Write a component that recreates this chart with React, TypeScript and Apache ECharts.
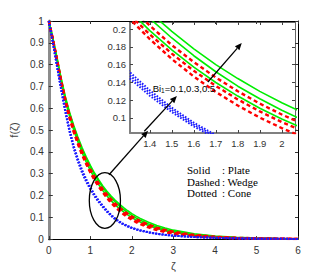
import React, { useEffect, useRef } from "react";
import * as echarts from "echarts";

const zeta = [0, 0.1, 0.2, 0.3, 0.4, 0.5, 0.6, 0.7, 0.8, 0.9, 1.0, 1.1, 1.2, 1.3, 1.4, 1.5, 1.6, 1.7, 1.8, 1.9, 2.0, 2.1, 2.2, 2.4, 2.6, 2.8, 3.0, 3.5, 4.0, 4.5, 5.0, 5.5, 6.0];

const plateBi05 = [1, 0.92, 0.83, 0.735, 0.652, 0.582, 0.521, 0.468, 0.42, 0.377, 0.338, 0.303, 0.272, 0.244, 0.219, 0.1975, 0.1778, 0.16, 0.1443, 0.1299, 0.117, 0.1053, 0.0949, 0.0769, 0.0624, 0.0506, 0.041, 0.0243, 0.0144, 0.0085, 0.005, 0.003, 0.0018];
const plateBi03 = [1, 0.918, 0.826, 0.73, 0.645, 0.576, 0.515, 0.461, 0.412, 0.369, 0.331, 0.296, 0.265, 0.237, 0.212, 0.19, 0.17, 0.152, 0.1357, 0.1215, 0.1086, 0.0971, 0.0869, 0.0695, 0.0556, 0.0444, 0.0355, 0.0203, 0.0116, 0.0066, 0.0038, 0.0022, 0.0012];
const plateBi01 = [1, 0.915, 0.82, 0.722, 0.635, 0.563, 0.5, 0.446, 0.397, 0.354, 0.315, 0.281, 0.25, 0.2227, 0.1983, 0.1766, 0.1571, 0.1399, 0.1246, 0.1108, 0.0987, 0.0878, 0.0782, 0.0619, 0.049, 0.0389, 0.0308, 0.0172, 0.0096, 0.0054, 0.003, 0.0017, 0.0009];

const wedgeBi05 = [1, 0.916, 0.822, 0.725, 0.639, 0.569, 0.506, 0.452, 0.403, 0.36, 0.321, 0.2865, 0.256, 0.228, 0.2039, 0.182, 0.1628, 0.1455, 0.13, 0.1161, 0.1038, 0.0927, 0.0829, 0.0662, 0.0529, 0.0422, 0.0337, 0.0192, 0.0109, 0.0062, 0.0035, 0.002, 0.0011];
const wedgeBi03 = [1, 0.913, 0.816, 0.718, 0.63, 0.559, 0.495, 0.441, 0.392, 0.349, 0.31, 0.276, 0.245, 0.218, 0.194, 0.1724, 0.153, 0.136, 0.1208, 0.1073, 0.0953, 0.0847, 0.0752, 0.0593, 0.0468, 0.0369, 0.0291, 0.0161, 0.0089, 0.0049, 0.0027, 0.0015, 0.0008];
const wedgeBi01 = [1, 0.911, 0.813, 0.714, 0.626, 0.554, 0.491, 0.436, 0.387, 0.344, 0.305, 0.271, 0.241, 0.2137, 0.1888, 0.1663, 0.1466, 0.1292, 0.1139, 0.1003, 0.0885, 0.078, 0.0687, 0.0534, 0.0415, 0.0322, 0.025, 0.0133, 0.0071, 0.0038, 0.002, 0.0011, 0.0006];

const coneBi05 = [1, 0.902, 0.793, 0.689, 0.59, 0.503, 0.428, 0.368, 0.318, 0.275, 0.238, 0.2055, 0.178, 0.1535, 0.131, 0.1115, 0.0946, 0.0806, 0.0695, 0.0603, 0.0527, 0.0462, 0.0407, 0.0319, 0.0251, 0.02, 0.016, 0.0097, 0.0059, 0.0036, 0.0021, 0.0013, 0.0008];
const coneBi03 = [1, 0.9, 0.79, 0.685, 0.585, 0.497, 0.422, 0.362, 0.311, 0.269, 0.233, 0.201, 0.174, 0.15, 0.128, 0.109, 0.0925, 0.0788, 0.068, 0.059, 0.0515, 0.0452, 0.0398, 0.0312, 0.0246, 0.0196, 0.0157, 0.0095, 0.0058, 0.0035, 0.0021, 0.0013, 0.0008];
const coneBi01 = [1, 0.898, 0.787, 0.681, 0.58, 0.491, 0.416, 0.356, 0.304, 0.263, 0.228, 0.1965, 0.17, 0.1465, 0.125, 0.1065, 0.0904, 0.077, 0.0665, 0.0577, 0.0503, 0.0442, 0.0389, 0.0305, 0.0241, 0.0192, 0.0154, 0.0093, 0.0057, 0.0034, 0.0021, 0.0013, 0.0008];

const insetXTicks = [1.4, 1.5, 1.6, 1.7, 1.8, 1.9, 2];
const insetYTicks = [0.1, 0.12, 0.14, 0.16, 0.18, 0.2];
const legendRows = [
  ["Solid", ": Plate"],
  ["Dashed", ": Wedge"],
  ["Dotted", ": Cone"],
];

const SANS = "'Liberation Sans Narrow', 'Liberation Sans', Arial, sans-serif";
const SERIF = "'Liberation Serif', 'Times New Roman', serif";

const groups = [
  { color: "#00ee00", type: "solid", width: 1.6, data: [plateBi01, plateBi03, plateBi05] },
  { color: "#ff0000", type: [4, 3], width: 2.4, data: [wedgeBi01, wedgeBi03, wedgeBi05] },
  { color: "#1a1aff", type: [1.6, 1.6], width: 2, data: [coneBi01, coneBi03, coneBi05] },
];

function makeSeries(xi: number, yi: number) {
  const out: any[] = [];
  groups.forEach((g) => {
    g.data.forEach((arr) => {
      out.push({
        type: "line",
        xAxisIndex: xi,
        yAxisIndex: yi,
        data: zeta.map((z, i) => [z, arr[i]]),
        showSymbol: false,
        smooth: false,
        clip: true,
        lineStyle: { color: g.color, width: g.width, type: g.type },
        silent: true,
      });
    });
  });
  return out;
}

function arrowEls(p0: number[], p1: number[]) {
  const dx = p1[0] - p0[0];
  const dy = p1[1] - p0[1];
  const L = Math.sqrt(dx * dx + dy * dy);
  const ux = dx / L;
  const uy = dy / L;
  const hl = 7;
  const hw = 3;
  const bx = p1[0] - ux * hl;
  const by = p1[1] - uy * hl;
  return [
    { type: "line", shape: { x1: p0[0], y1: p0[1], x2: bx, y2: by }, style: { stroke: "#000", lineWidth: 1.3 }, z: 100 },
    {
      type: "polygon",
      shape: { points: [[p1[0], p1[1]], [bx - uy * hw, by + ux * hw], [bx + uy * hw, by - ux * hw]] },
      style: { fill: "#000" },
      z: 100,
    },
  ];
}

export default function App() {
  const ref = useRef<HTMLDivElement>(null);
  useEffect(() => {
    if (!ref.current) return;
    const chart = echarts.init(ref.current, undefined, { renderer: "svg" });
    const labelStyle = { fontFamily: SANS, fontSize: 10, color: "#333" };
    const option: any = {
      animation: false,
      backgroundColor: "#fff",
      grid: [
        { left: 43, top: 21, width: 255, height: 224, show: false },
        { left: 130, top: 22, width: 165, height: 111, show: true, backgroundColor: "#fff", borderWidth: 0 },
      ],
      xAxis: [
        {
          gridIndex: 0, type: "value", min: 0, max: 6, interval: 1, position: "bottom",
          axisLine: { onZero: false, lineStyle: { color: "#000", width: 1 } },
          axisTick: { inside: true, length: 3, lineStyle: { color: "#333" } },
          axisLabel: { ...labelStyle, margin: 6 },
          splitLine: { show: false },
          name: "ζ", nameLocation: "middle", nameGap: 15,
          nameTextStyle: { fontFamily: SANS, fontSize: 11, color: "#444" },
        },
        {
          gridIndex: 0, type: "value", min: 0, max: 6, interval: 1, position: "top",
          axisLine: { onZero: false, lineStyle: { color: "#000", width: 1 } },
          axisTick: { inside: true, length: 3, lineStyle: { color: "#333" } },
          axisLabel: { show: false }, splitLine: { show: false },
        },
        {
          gridIndex: 1, type: "value", min: 1.31, max: 2.06, position: "bottom",
          axisLine: { onZero: false, lineStyle: { color: "#808080", width: 2 } },
          axisTick: { inside: true, length: 3, customValues: insetXTicks, lineStyle: { color: "#444" } },
          axisLabel: { ...labelStyle, fontSize: 9.5, margin: 5, customValues: insetXTicks },
          splitLine: { show: false },
        },
        {
          gridIndex: 1, type: "value", min: 1.31, max: 2.06, position: "top",
          axisLine: { onZero: false, lineStyle: { color: "#666", width: 1 } },
          axisTick: { inside: true, length: 3, customValues: insetXTicks, lineStyle: { color: "#444" } },
          axisLabel: { show: false }, splitLine: { show: false },
        },
      ],
      yAxis: [
        {
          gridIndex: 0, type: "value", min: 0, max: 1, interval: 0.1, position: "left",
          axisLine: { onZero: false, lineStyle: { color: "#8c8c8c", width: 3 } },
          axisTick: { inside: true, length: 4, lineStyle: { color: "#333" } },
          axisLabel: { ...labelStyle, margin: 5 },
          splitLine: { show: false },
          name: "f(ζ)", nameLocation: "middle", nameGap: 19, nameRotate: 90,
          nameTextStyle: { fontFamily: SANS, fontSize: 11, color: "#444" },
        },
        {
          gridIndex: 0, type: "value", min: 0, max: 1, interval: 0.1, position: "right",
          axisLine: { onZero: false, lineStyle: { color: "#000", width: 1 } },
          axisTick: { inside: true, length: 3, lineStyle: { color: "#333" } },
          axisLabel: { show: false }, splitLine: { show: false },
        },
        {
          gridIndex: 1, type: "value", min: 0.083, max: 0.208, position: "left",
          axisLine: { onZero: false, lineStyle: { color: "#808080", width: 2 } },
          axisTick: { inside: true, length: 3, customValues: insetYTicks, lineStyle: { color: "#444" } },
          axisLabel: { ...labelStyle, fontSize: 9.5, margin: 4, customValues: insetYTicks },
          splitLine: { show: false },
        },
        {
          gridIndex: 1, type: "value", min: 0.083, max: 0.208, position: "right",
          axisLine: { onZero: false, lineStyle: { color: "#666", width: 1 } },
          axisTick: { inside: true, length: 3, customValues: insetYTicks, lineStyle: { color: "#444" } },
          axisLabel: { show: false }, splitLine: { show: false },
        },
      ],
      series: [...makeSeries(0, 0), ...makeSeries(2, 2)],
    };
    chart.setOption(option);

    const toMain = (p: number[]) => chart.convertToPixel({ seriesIndex: 0 }, p) as number[];
    const toInset = (p: number[]) => chart.convertToPixel({ seriesIndex: 9 }, p) as number[];

    const c = toMain([1.35, 0.177]);
    const r = toMain([1.35 + 0.375, 0.177 + 0.1275]);
    const ellipse = {
      type: "ellipse",
      shape: { cx: c[0], cy: c[1], rx: Math.abs(r[0] - c[0]), ry: Math.abs(r[1] - c[1]) },
      style: { fill: "none", stroke: "#000", lineWidth: 1.3 },
      z: 100,
    };
    const a1 = arrowEls(toMain([1.45, 0.295]), toMain([2.39, 0.497]));
    const a2 = arrowEls(toInset([1.375, 0.085]), toInset([1.523, 0.1247]));
    const a3 = arrowEls(toInset([1.664, 0.1404]), toInset([1.818, 0.1843]));
    const biPos = toInset([1.413, 0.1336]);

    const legendEls: any[] = [];
    legendRows.forEach((row, i) => {
      const y = 170 + i * 11.7;
      legendEls.push({
        type: "text", x: 187, y, z: 100,
        style: { text: row[0], font: `11px ${SERIF}`, fill: "#000", verticalAlign: "middle", align: "left" },
      });
      legendEls.push({
        type: "text", x: 222, y, z: 100,
        style: { text: row[1], font: `11px ${SERIF}`, fill: "#000", verticalAlign: "middle", align: "left" },
      });
    });

    chart.setOption({
      graphic: [
        ellipse,
        ...a1,
        ...a2,
        ...a3,
        {
          type: "text", x: biPos[0], y: biPos[1], z: 100,
          style: {
            text: "{b|Bi}{s|1}{b|=0.1,0.3,0.5}",
            verticalAlign: "middle",
            align: "left",
            rich: {
              b: { fontFamily: SANS, fontSize: 9.5, fill: "#000" },
              s: { fontFamily: SANS, fontSize: 6.5, fill: "#000", padding: [5, 0, 0, 0] },
            },
          },
        },
        ...legendEls,
      ],
    });

    return () => chart.dispose();
  }, []);
  return <div ref={ref} style={{ position: "absolute", left: 0, top: 0, width: 330, height: 276 }} />;
}
